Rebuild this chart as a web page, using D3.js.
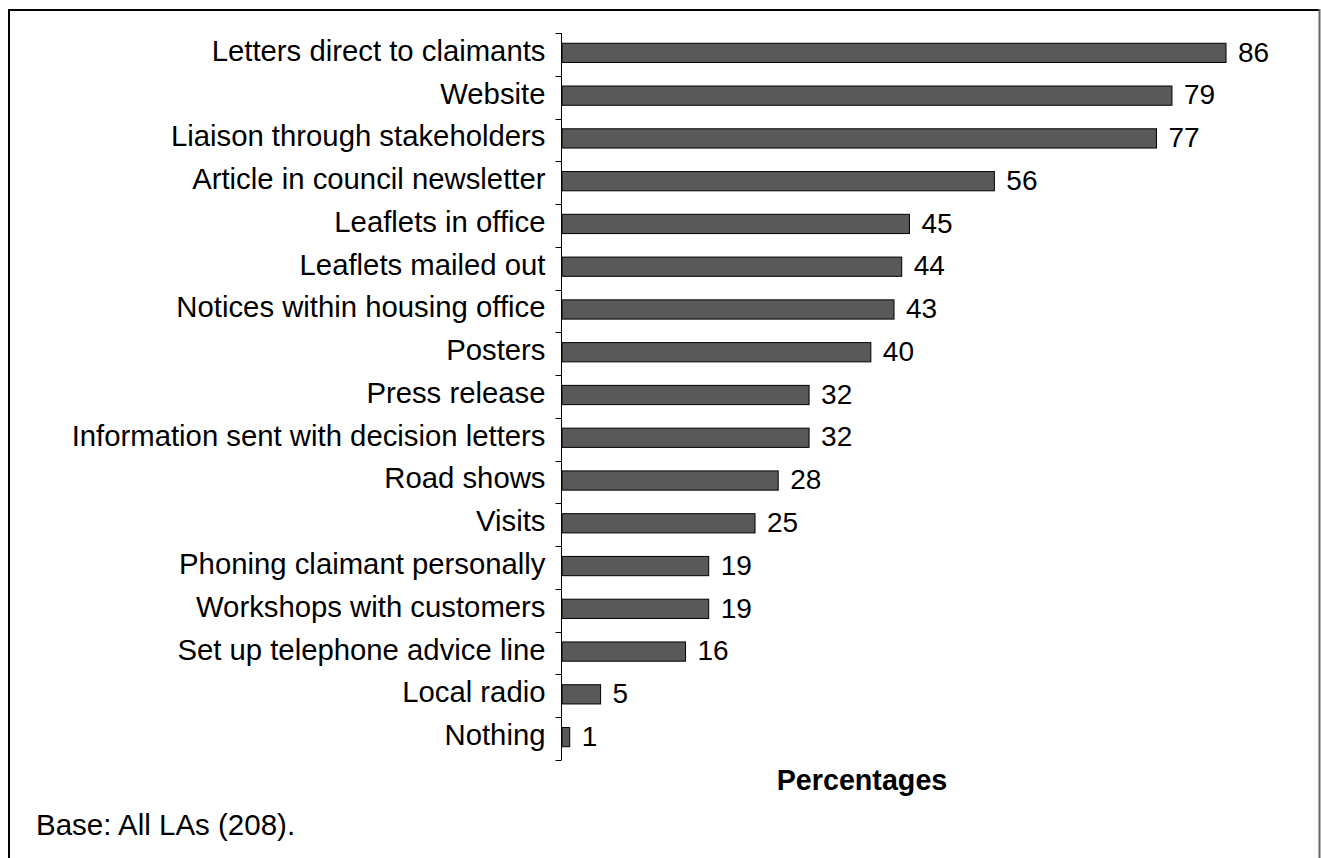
<!DOCTYPE html>
<html>
<head>
<meta charset="utf-8">
<script src="https://cdn.jsdelivr.net/npm/d3@7"></script>
<style>
  html, body { margin: 0; padding: 0; background: #fff; }
  svg { display: block; }
  text { font-family: "Liberation Sans", Arial, sans-serif; fill: #000; }
</style>
</head>
<body>
<svg id="chart" width="1321" height="858"></svg>
<script>
const categories = [
  "Letters direct to claimants",
  "Website",
  "Liaison through stakeholders",
  "Article in council newsletter",
  "Leaflets in office",
  "Leaflets mailed out",
  "Notices within housing office",
  "Posters",
  "Press release",
  "Information sent with decision letters",
  "Road shows",
  "Visits",
  "Phoning claimant personally",
  "Workshops with customers",
  "Set up telephone advice line",
  "Local radio",
  "Nothing"
];
const values = [86, 79, 77, 56, 45, 44, 43, 40, 32, 32, 28, 25, 19, 19, 16, 5, 1];
const axisTitle = "Percentages";
const footnote = "Base: All LAs (208).";

const svg = d3.select("#chart");

// frame (left/top black, right edge slightly lighter, bottom off-canvas)
const frame = svg.append("g");
frame.append("path")
  .attr("d", "M9,870V10H1320")
  .attr("fill", "none").attr("stroke", "#000").attr("stroke-width", 2);
frame.append("line")
  .attr("x1", 1319.5).attr("x2", 1319.5).attr("y1", 9).attr("y2", 870)
  .attr("stroke", "#666").attr("stroke-width", 2);

const axisX = 561.5;
const y = d3.scaleBand().domain(categories).range([33, 760]).padding(0);
const x = d3.scaleLinear().domain([0, 86]).range([562, 1226]);

const barH = y.bandwidth() * 0.45;
const yc = d => y(d) + y.bandwidth() / 2 - 1.5;

// bars
svg.append("g").selectAll("rect")
  .data(categories)
  .join("rect")
  .attr("x", x(0))
  .attr("y", d => yc(d) - barH / 2)
  .attr("width", (d, i) => x(values[i]) - x(0))
  .attr("height", barH)
  .attr("fill", "#595959")
  .attr("stroke", "#000")
  .attr("stroke-width", 1);

// axis
const yAxis = d3.axisLeft(y).tickSize(0).tickPadding(16);
const gAxis = svg.append("g").attr("transform", `translate(${axisX},0)`).call(yAxis);
gAxis.select(".domain").attr("stroke", "#000").attr("d", "M0,33V760");
gAxis.selectAll(".tick text")
  .attr("font-size", 29.3)
  .attr("font-family", "Liberation Sans, Arial, sans-serif")
  .attr("fill", "#000")
  .attr("dy", "0.27em")
  .attr("y", -1.5);

// tick marks at band boundaries
const boundaries = categories.map(c => y(c)).concat([y(categories[categories.length - 1]) + y.bandwidth()]);
svg.append("g").selectAll("line")
  .data(boundaries)
  .join("line")
  .attr("x1", axisX - 6).attr("x2", axisX)
  .attr("y1", d => Math.round(d) + 0.5).attr("y2", d => Math.round(d) + 0.5)
  .attr("stroke", "#000").attr("stroke-width", 1);

// value labels
svg.append("g").selectAll("text")
  .data(categories)
  .join("text")
  .attr("x", (d, i) => x(values[i]) + 12)
  .attr("y", d => yc(d))
  .attr("dy", "0.31em")
  .attr("font-size", 28)
  .text((d, i) => values[i]);

// axis title
svg.append("text")
  .attr("x", 862).attr("y", 790)
  .attr("text-anchor", "middle")
  .attr("font-size", 28.7)
  .attr("font-weight", "bold")
  .text(axisTitle);

// footnote
svg.append("text")
  .attr("x", 36).attr("y", 835)
  .attr("font-size", 29.5)
  .text(footnote);
</script>
</body>
</html>
